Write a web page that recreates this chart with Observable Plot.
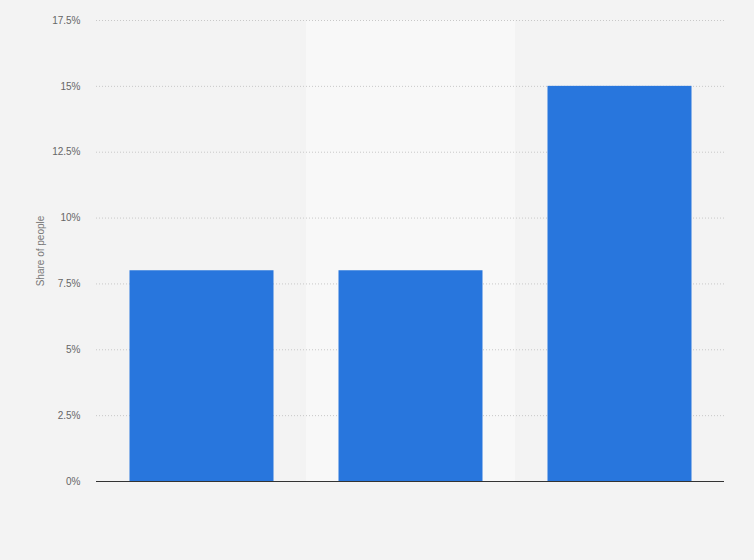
<!DOCTYPE html>
<html>
<head>
<meta charset="utf-8">
<script src="https://cdn.jsdelivr.net/npm/d3@7"></script>
<script src="https://cdn.jsdelivr.net/npm/@observablehq/plot@0.6"></script>
<style>
  html, body { margin: 0; padding: 0; background: #f3f3f3; }
  #chart svg { display: block; }
</style>
</head>
<body>
<div id="chart"></div>
<script>
const categories = ["Group 1", "Group 2", "Group 3"];
const shares = [8, 8, 15];
const yTicks = [0, 2.5, 5, 7.5, 10, 12.5, 15, 17.5];
const highlighted = ["Group 2"];

const data = categories.map((c, i) => ({category: c, share: shares[i]}));
const bands = highlighted.map(c => ({category: c, top: d3.max(yTicks)}));

const chart = Plot.plot({
  width: 754,
  height: 560,
  marginLeft: 96,
  marginRight: 30,
  marginTop: 20,
  marginBottom: 79,
  style: {background: "#f3f3f3", fontFamily: "'Liberation Sans', Arial, sans-serif", fontSize: "10px", color: "#666"},
  x: {domain: categories, padding: 0, axis: null},
  y: {domain: [0, 17.5], ticks: yTicks, tickFormat: d => d + "%", label: null},
  marks: [
    Plot.barY(bands, {x: "category", y: "top", fill: "#f8f8f8"}),
    Plot.gridY(yTicks, {stroke: "#c8c8c8", strokeOpacity: 1, strokeDasharray: "1,2"}),
    Plot.axisY(yTicks, {tickSize: 0, tickPadding: 16, tickFormat: d => d + "%", fill: "#666", fontSize: 10, label: null}),
    Plot.barY(data, {x: "category", y: "share", fill: "#2876dd", insetLeft: 32.5, insetRight: 32.5}),
    Plot.ruleY([0], {stroke: "#333", strokeWidth: 1.2}),
    Plot.text(["Share of people"], {frameAnchor: "left", textAnchor: "middle", dx: -56, rotate: -90, fill: "#777", fontSize: 10})
  ]
});
document.getElementById("chart").appendChild(chart);
</script>
</body>
</html>
